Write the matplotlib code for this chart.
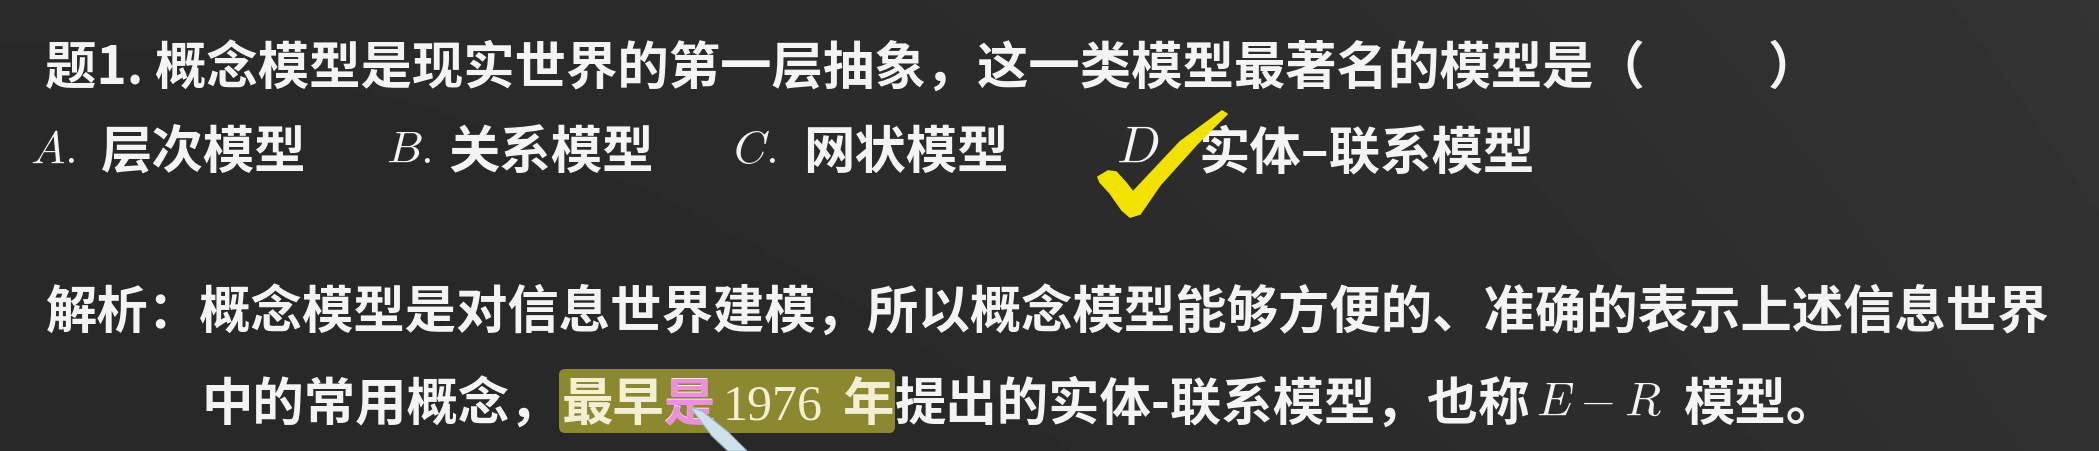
import numpy as np
import matplotlib
matplotlib.use("Agg")
import matplotlib.pyplot as plt
from matplotlib.patches import FancyBboxPatch, Polygon, Rectangle

plt.rcParams["font.family"] = ["Noto Sans CJK SC", "DejaVu Sans"]
plt.rcParams["mathtext.fontset"] = "cm"

W, H = 2099, 451

# question line
QUESTION = "题1. 概念模型是现实世界的第一层抽象，这一类模型最著名的模型是（"
QUESTION_CLOSE = "）"

# answer options
OPTION_LETTERS = ["$A.$", "$B.$", "$C.$", "$D$"]
OPTION_TEXTS = ["层次模型", "关系模型", "网状模型", "实体–联系模型"]
OPTION_LETTER_X = [30, 386, 733, 1116]
OPTION_TEXT_X = [101, 448, 803, 1199]

# analysis lines
ANALYSIS_1 = "解析：概念模型是对信息世界建模，所以概念模型能够方便的、准确的表示上述信息世界"
ANALYSIS_2_PARTS = ["中的常用概念，", "最早是", "1976", "年", "提出的实体-联系模型，也称", "$E-R$", "模型。"]
ANALYSIS_2_X = [201, 562, 723, 842, 895, 1536, 1683]
HIGHLIGHTED = [False, True, True, True, False, False, False]

# yellow tick drawn next to D
CHECK_MARK_XY = [
    (1098, 177), (1108, 171), (1116, 172), (1126, 183), (1133, 192),
    (1180, 142), (1222, 111), (1227, 114), (1196, 145), (1160, 185),
    (1140, 214), (1130, 217), (1122, 210), (1110, 193), (1100, 182),
]
CURSOR_XY = [(690, 407), (702, 411), (728, 432), (747, 451), (728, 451), (712, 436), (700, 420)]

WHITE = "#f4f4f4"
HL_TEXT = "#f3efd2"
CJK_SIZE = 37

fig = plt.figure(figsize=(W / 100, H / 100), dpi=100)
ax = fig.add_axes([0, 0, 1, 1])
ax.set_xlim(0, W)
ax.set_ylim(H, 0)
ax.axis("off")

# chalkboard background: smooth dark gradient, a bit lighter on the right
gx = np.linspace(0, 1, 400)
gy = np.linspace(0, 1, 90)
GX, GY = np.meshgrid(gx, gy)
bg = 0.165 + 0.035 * GX ** 2 - 0.01 * GY
ax.imshow(bg, cmap="gray", vmin=0, vmax=1, extent=[0, W, H, 0], aspect="auto", zorder=0)

# line 1
ax.text(45, 84, QUESTION, color=WHITE, fontsize=CJK_SIZE, weight="bold", va="baseline", ha="left")
ax.text(1768, 84, QUESTION_CLOSE, color=WHITE, fontsize=CJK_SIZE, weight="bold", va="baseline", ha="left")

# line 2: options
for letter, lx, label, tx in zip(OPTION_LETTERS, OPTION_LETTER_X, OPTION_TEXTS, OPTION_TEXT_X):
    size = 37 if letter == "$D$" else 33
    ax.text(lx, 163, letter, color=WHITE, fontsize=size, va="baseline", ha="left")
    ax.text(tx, 168, label, color=WHITE, fontsize=CJK_SIZE, weight="bold", va="baseline", ha="left")

ax.add_patch(Polygon(CHECK_MARK_XY, closed=True, facecolor="#f2e200", edgecolor="#f2e200",
                     linewidth=1.2, joinstyle="round", zorder=5))

# line 3
ax.text(45, 328, ANALYSIS_1, color=WHITE, fontsize=CJK_SIZE, weight="bold", va="baseline", ha="left")

# line 4 with highlighted span
ax.add_patch(FancyBboxPatch((562, 372), 330, 58, boxstyle="round,pad=3,rounding_size=6",
                            facecolor="#8c8830", edgecolor="none", zorder=2))
for part, px, hl in zip(ANALYSIS_2_PARTS, ANALYSIS_2_X, HIGHLIGHTED):
    color = HL_TEXT if hl else WHITE
    if part == "1976":
        ax.text(px, 420, part, color=color, fontsize=36, family="Liberation Serif",
                va="baseline", ha="left", zorder=3)
    elif part.startswith("$"):
        ax.text(px, 415, part, color=color, fontsize=34, va="baseline", ha="left", zorder=3)
    else:
        ax.text(px, 420, part, color=color, fontsize=CJK_SIZE, weight="bold",
                va="baseline", ha="left", zorder=3)

# pink pen mark over the lower left of 是, and the pointer
pink = ax.text(664, 420, "是", color="#ee8fdc", fontsize=CJK_SIZE, weight="bold",
               va="baseline", ha="left", zorder=4)
pink.set_clip_path(Rectangle((672, 396), 24, 28, transform=ax.transData))
ax.add_patch(Polygon(CURSOR_XY, closed=True, facecolor="#cfe1ea", edgecolor="#9fb8c4",
                     linewidth=0.8, zorder=6))

fig.savefig("out.png", dpi=100, facecolor="#2a2a2a")
